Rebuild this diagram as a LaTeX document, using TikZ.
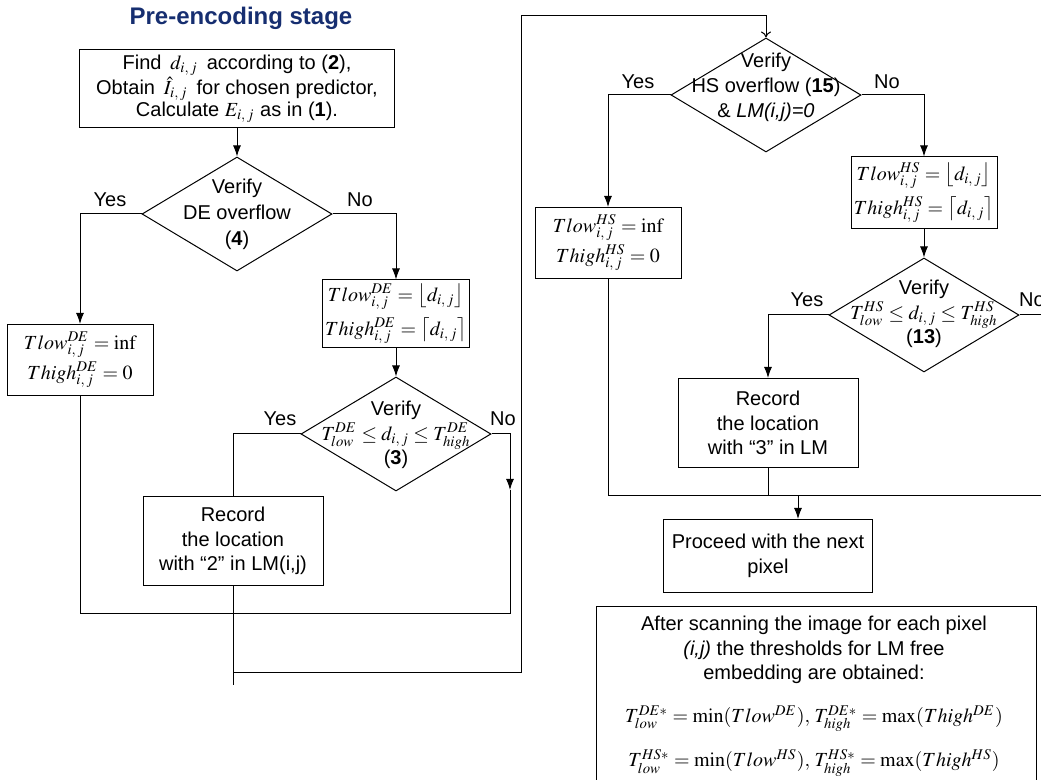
\documentclass[tikz,border=0pt]{standalone}
\usepackage{mathptmx}
\usepackage[no-math]{fontspec}
\setmainfont{Liberation Sans}
\usetikzlibrary{shapes.geometric,arrows.meta}
\definecolor{titleblue}{RGB}{22,46,112}
\tikzset{
  box/.style={draw,rectangle,inner sep=1pt,align=center},
  dia/.style={draw,diamond,minimum width=95pt,minimum height=57pt,inner sep=0pt},
  txt/.style={align=center,inner sep=0pt},
  yn/.style={inner sep=0pt}
}
\begin{document}
\begin{tikzpicture}[x=0.5pt,y=-0.5pt,line width=0.5pt,>={Latex[length=5.5pt,width=4pt]},font=\fontsize{10}{12.25}\selectfont]
\useasboundingbox (0,0) rectangle (1041,780);
\node[font=\fontsize{12}{14}\selectfont\bfseries,text=titleblue] (title) at (241,18) {Pre-encoding stage};
\node[box,minimum width=157.5pt,minimum height=39pt,font=\fontsize{10}{11}\selectfont] (find) at (237,89) {Find\, $d_{i,\,j}$\, according to (\textbf{2}),\\Obtain\, $\hat{I}_{i,\,j}$\, for chosen predictor,\\Calculate $E_{i,\,j}$ as in (\textbf{1}).};
\node[dia] (dov) at (237,214) {};
\node[txt,font=\fontsize{10}{13}\selectfont] (dovt) at (237,214) {Verify\\DE overflow\\(\textbf{4})};
\node[box,minimum width=73pt,minimum height=35.5pt,font=\fontsize{10}{15}\selectfont] (deinf) at (80,360) {$Tlow^{DE}_{i,\,j}=\mathrm{inf}$\\$Thigh^{DE}_{i,\,j}=0$};
\node[box,minimum width=73.5pt,minimum height=34pt,font=\fontsize{10}{17}\selectfont] (defl) at (396,314) {$Tlow^{DE}_{i,\,j}=\bigl\lfloor d_{i,\,j}\bigr\rfloor$\\$Thigh^{DE}_{i,\,j}=\bigl\lceil d_{i,\,j}\bigr\rceil$};
\node[dia] (drange) at (396,434) {};
\node[txt] (dranget) at (396,435) {Verify\\$T^{DE}_{low}\le d_{i,\,j}\le T^{DE}_{high}$\\(\textbf{3})};
\node[box,minimum width=90pt,minimum height=44.5pt] (rec2) at (233,541) {Record\\the location\\with “2” in LM(i,j)};
\node[yn] (yes1) at (110,200) {Yes};
\node[yn] (no1) at (360,200) {No};
\node[yn] (yes2) at (280,419) {Yes};
\node[yn] (no2) at (503,419) {No};
\node[dia] (hov) at (766,95) {};
\node[txt,font=\fontsize{10}{12.5}\selectfont] (hovt) at (766,87) {Verify\\HS overflow (\textbf{15})\\\& \textit{LM(i,j)=0}};
\node[box,minimum width=73pt,minimum height=35.5pt,font=\fontsize{10}{15}\selectfont] (hsinf) at (608,243) {$Tlow^{HS}_{i,\,j}=\mathrm{inf}$\\$Thigh^{HS}_{i,\,j}=0$};
\node[box,minimum width=73pt,minimum height=36pt,font=\fontsize{10}{17}\selectfont] (hsfl) at (924,193) {$Tlow^{HS}_{i,\,j}=\bigl\lfloor d_{i,\,j}\bigr\rfloor$\\$Thigh^{HS}_{i,\,j}=\bigl\lceil d_{i,\,j}\bigr\rceil$};
\node[dia] (hrange) at (924,315) {};
\node[txt] (hranget) at (924,314) {Verify\\$T^{HS}_{low}\le d_{i,\,j}\le T^{HS}_{high}$\\(\textbf{13})};
\node[box,minimum width=90pt,minimum height=44.5pt] (rec3) at (768,423) {Record\\the location\\with “3” in LM};
\node[box,minimum width=104.5pt,minimum height=36.5pt] (next) at (768,556) {Proceed with the next\\pixel};
\node[draw,minimum width=220pt,minimum height=100pt,anchor=north] (scan) at (816,606) {};
\node[txt,anchor=north] (scant) at (814,616) {After scanning the image for each pixel\\\textit{(i,j)} the thresholds for LM free\\embedding are obtained:\\[9pt]
$T^{DE*}_{low}=\min(Tlow^{DE}),\,T^{DE*}_{high}=\max(Thigh^{DE})$\\[8pt]
$T^{HS*}_{low}=\min(Tlow^{HS}),\,T^{HS*}_{high}=\max(Thigh^{HS})$};
\node[yn] (yes3) at (638,82) {Yes};
\node[yn] (no3) at (887,82) {No};
\node[yn] (yes4) at (807,300) {Yes};
\node[yn] (no4) at (1032,300) {No};
\coordinate (nomid) at (510,490);
\coordinate (loopc) at (510,614);
\coordinate (out1) at (233,685);
\coordinate (up1) at (521,673);
\coordinate (up2) at (521,16);
\coordinate (offr) at (1060,315);
\coordinate (joint) at (798,496);
\draw[->] (find) -- (dov);
\draw[->] (dov.west) -| (deinf.north);
\draw[->] (dov.east) -| (defl.north);
\draw[->] (defl) -- (drange);
\draw (drange.west) -| (rec2.north);
\draw[->] (drange.east) -| (nomid);
\draw (nomid) -- (loopc) -| (deinf.south);
\draw (rec2.south) -- (out1);
\draw[-{To[length=3pt,width=5pt]}] (rec2.south |- up1) -- (up1) -- (up2) -| (hov.north);
\draw[->] (hov.west) -| (hsinf.north);
\draw[->] (hov.east) -| (hsfl.north);
\draw[->] (hsfl) -- (hrange);
\draw[->] (hrange.west) -| (rec3.north);
\draw (hrange.east) -- (offr) |- (hsinf.south |- joint);
\draw (hsinf.south) -- (hsinf.south |- joint);
\draw (rec3.south) -- (rec3.south |- joint);
\draw[->] (joint) -- (joint |- next.north);
\end{tikzpicture}
\end{document}
